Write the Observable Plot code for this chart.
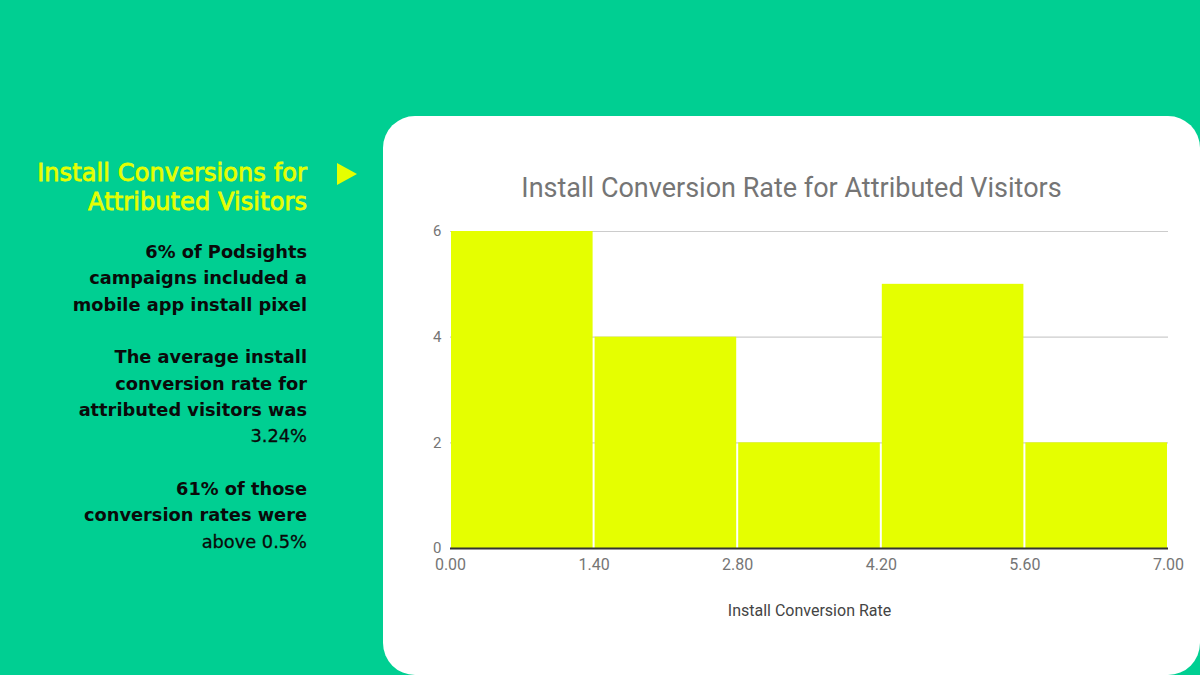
<!DOCTYPE html>
<html>
<head>
<meta charset="utf-8">
<script src="https://cdn.jsdelivr.net/npm/d3@7"></script>
<script src="https://cdn.jsdelivr.net/npm/@observablehq/plot@0.6"></script>
<style>
  html, body { margin: 0; padding: 0; }
  body { width: 1200px; height: 675px; background: #00CF92; position: relative; overflow: hidden; font-family: "DejaVu Sans", sans-serif; }
  #card { position: absolute; left: 383px; top: 116px; width: 817px; height: 559px; background: #fff; border-radius: 32px; }
  #side { position: absolute; right: 893px; top: 159px; width: 340px; text-align: right; }
  #side h2 { margin: 0 0 22px 0; font-size: 24px; line-height: 29px; font-weight: 400; color: #E5FF00; -webkit-text-stroke: 0.8px #E5FF00; letter-spacing: 0.1px; }
  #side p { margin: 0 0 26px 0; font-size: 17.8px; line-height: 26.4px; font-weight: 700; color: #0a0a0a; }
  #side p span { font-weight: 400; -webkit-text-stroke: 0.3px #0a0a0a; }
  #tri { position: absolute; left: 337px; top: 163px; width: 0; height: 0; border-top: 11.5px solid transparent; border-bottom: 11.5px solid transparent; border-left: 20px solid #E5FF00; }
  #title { position: absolute; left: 383px; width: 817px; top: 171px; line-height: 34px; text-align: center; font-family: Roboto, sans-serif; font-size: 27px; color: #757575; }
  #chart { position: absolute; left: 383px; top: 116px; }
</style>
</head>
<body>
<div id="card"></div>
<div id="side">
  <h2>Install Conversions for<br>Attributed Visitors</h2>
  <p>6% of Podsights<br>campaigns included a<br>mobile app install pixel</p>
  <p>The average install<br>conversion rate for<br>attributed visitors was<br><span>3.24%</span></p>
  <p>61% of those<br>conversion rates were<br><span>above 0.5%</span></p>
</div>
<div id="tri"></div>
<div id="title">Install Conversion Rate for Attributed Visitors</div>
<div id="chart"></div>
<script>
const binStarts = [0.0, 1.4, 2.8, 4.2, 5.6];
const binEnds = [1.4, 2.8, 4.2, 5.6, 7.0];
const counts = [6, 4, 2, 5, 2];
const xTicks = [0.0, 1.4, 2.8, 4.2, 5.6, 7.0];
const yTicks = [0, 2, 4, 6];

const bins = binStarts.map((s, i) => ({x1: s, x2: binEnds[i], count: counts[i]}));

const chart = Plot.plot({
  width: 817,
  height: 559,
  marginLeft: 67,
  marginRight: 32,
  marginTop: 115,
  marginBottom: 127,
  style: { fontFamily: "Roboto, sans-serif", fontSize: "16px", color: "#666", background: "transparent" },
  x: { domain: [0, 7], ticks: xTicks, tickFormat: d => d.toFixed(2), label: null },
  y: { domain: [0, 6], ticks: yTicks, tickFormat: d3.format("d"), label: null },
  marks: [
    Plot.gridY(yTicks.filter(d => d > 0), { stroke: "#cccccc", strokeOpacity: 1, strokeWidth: 1.2 }),
    Plot.rectY(bins, { x1: "x1", x2: "x2", y: "count", fill: "#E5FF00", insetLeft: 1, insetRight: 1 }),
    Plot.ruleY([0], { stroke: "#333", strokeWidth: 2 }),
    Plot.axisY({ ticks: yTicks, tickSize: 0, tickPadding: 9, tickFormat: d3.format("d"), label: null, fill: "#757575", fontSize: 15 }),
    Plot.axisX({ ticks: xTicks, tickSize: 0, tickPadding: 10, tickFormat: d => d.toFixed(2), label: null, fill: "#757575" }),
    Plot.text(["Install Conversion Rate"], { frameAnchor: "bottom", dy: 67, fontSize: 16, fill: "#444" })
  ]
});
document.getElementById("chart").appendChild(chart);
</script>
</body>
</html>
